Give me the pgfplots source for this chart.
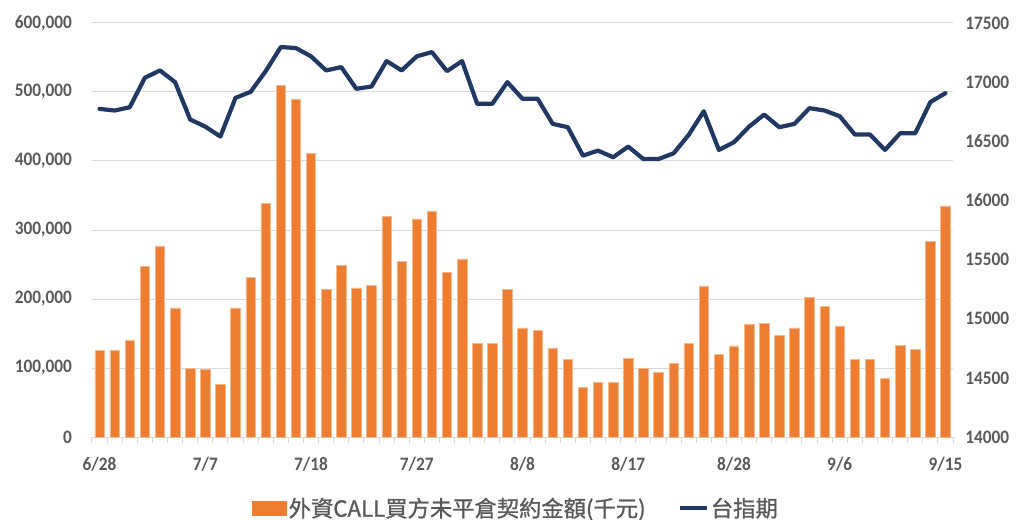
\documentclass[border=0pt]{standalone}
\usepackage{fontspec}
\setmainfont{Carlito}
\newfontfamily\cjk{Noto Sans CJK TC}[FakeBold=1]
\usepackage{pgfplots}
\pgfplotsset{compat=1.18}
\usepackage{pgfplotstable}
\definecolor{barorange}{HTML}{ED7D31}
\definecolor{navy}{HTML}{203864}
\definecolor{gridgray}{HTML}{D9D9D9}
\definecolor{txtgray}{HTML}{595959}

\pgfplotstableread{
x y
0 125000
1 125000
2 140000
3 247000
4 276000
5 187000
6 100000
7 98000
8 76000
9 187000
10 231000
11 338000
12 509000
13 489000
14 411000
15 214000
16 249000
17 216000
18 220000
19 320000
20 254000
21 316000
22 327000
23 238000
24 258000
25 136000
26 136000
27 214000
28 158000
29 154000
30 129000
31 112000
32 72000
33 79000
34 79000
35 114000
36 100000
37 94000
38 107000
39 136000
40 218000
41 120000
42 132000
43 163000
44 165000
45 147000
46 158000
47 202000
48 189000
49 161000
50 112000
51 112000
52 85000
53 133000
54 127000
55 283000
56 335000
}\bars

\pgfplotstableread{
x y
0 16774
1 16760
2 16788
3 17037
4 17099
5 17000
6 16684
7 16624
8 16540
9 16867
10 16918
11 17093
12 17297
13 17288
14 17218
15 17099
16 17127
17 16944
18 16963
19 17178
20 17099
21 17218
22 17254
23 17093
24 17178
25 16817
26 16817
27 17000
28 16859
29 16859
30 16647
31 16619
32 16379
33 16421
34 16365
35 16455
36 16350
37 16350
38 16398
39 16554
40 16754
41 16427
42 16492
43 16624
44 16726
45 16619
46 16647
47 16780
48 16760
49 16712
50 16557
51 16557
52 16427
53 16568
54 16568
55 16831
56 16907
}\idx

\begin{document}
\begin{tikzpicture}
\pgfplotsset{
  every tick label/.append style={font=\fontsize{19bp}{22bp}\selectfont\bfseries, text=txtgray, xscale=0.91},
}
\begin{axis}[
  scale only axis,
  width=861bp, height=414bp,
  at={(0,0)}, anchor=south west,
  xmin=-0.5, xmax=56.5,
  ymin=0, ymax=600000,
  ytick={0,100000,...,600000},
  xtick={0,7,...,56},
  xticklabels={6/28,7/7,7/18,7/27,8/8,8/17,8/28,9/6,9/15},
  minor xtick={-0.5,0.5,...,56.5},
  major x tick style={draw=none},
  minor x tick style={draw=gridgray, line width=1bp},
  minor tick length=6bp,
  tick align=outside,
  axis x line*=bottom,
  axis y line*=left,
  x axis line style={draw=gridgray, line width=1bp},
  y axis line style={draw=none},
  ytick style={draw=none},
  ymajorgrids,
  grid style={draw=gridgray, line width=1bp},
  /pgf/number format/assume math mode=true,
  /pgf/number format/fixed,
  /pgf/number format/1000 sep={,},
  scaled y ticks=false,
  yticklabel style={xshift=-14bp},
  xticklabel style={yshift=-12bp},
  clip=false,
]
\addplot[ybar, bar width=9.5bp, fill=barorange, draw=barorange!55!white, line width=0.6bp] table[x=x,y=y] {\bars};
\end{axis}
\begin{axis}[
  scale only axis,
  width=861bp, height=414bp,
  at={(0,0)}, anchor=south west,
  xmin=-0.5, xmax=56.5,
  ymin=14000, ymax=17500,
  ytick={14000,14500,...,17500},
  axis x line=none,
  axis y line*=right,
  y axis line style={draw=none},
  ytick style={draw=none},
  /pgf/number format/assume math mode=true,
  /pgf/number format/fixed,
  /pgf/number format/1000 sep={},
  scaled y ticks=false,
  yticklabel style={xshift=10bp},
  legend style={at={(0.4925,-0.1715)}, anchor=center, draw=none, fill=none,
    legend columns=2, font=\cjk\fontsize{22.3bp}{25bp}\selectfont, text=txtgray,
    /tikz/every even column/.append style={column sep=30bp},
    nodes={inner sep=2bp}},
  clip=false,
]
\addlegendimage{legend image code/.code={\fill[barorange] (0bp,-7bp) rectangle (34bp,7bp);}}
\addlegendentry{外資CALL買方未平倉契約金額(千元)}
\addlegendimage{legend image code/.code={\draw[navy, line width=4.2bp] (0bp,0bp) -- (27bp,0bp);}}
\addlegendentry{台指期}
\addplot[navy, line width=4.2bp, line join=round, line cap=round] table[x=x,y=y] {\idx};
\end{axis}
\pgfresetboundingbox
\path[use as bounding box] (-92bp,-83bp) rectangle (925bp,437bp);
\end{tikzpicture}
\end{document}
